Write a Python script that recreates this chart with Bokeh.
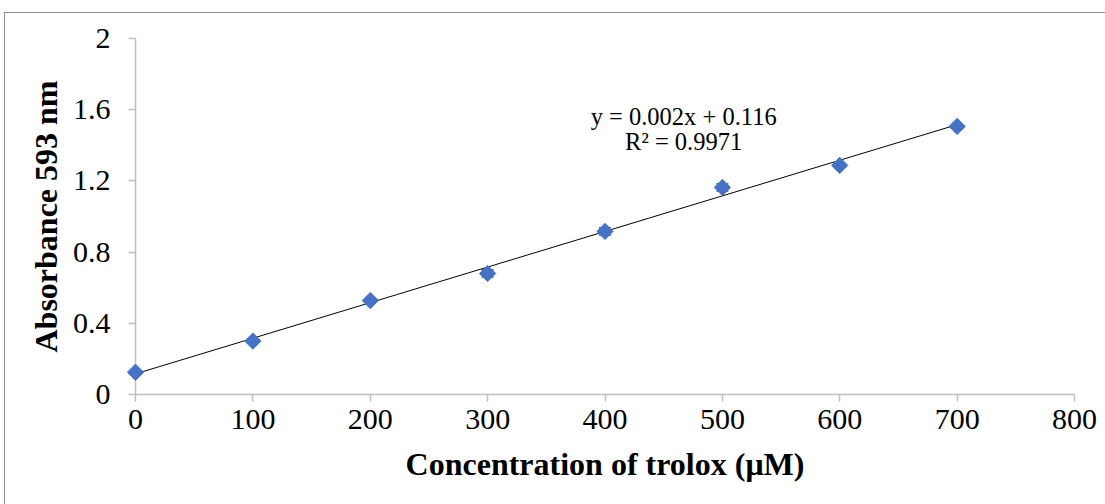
from bokeh.plotting import figure
from bokeh.models import ColumnDataSource, FixedTicker, Whisker, Label
from bokeh.embed import file_html
from bokeh.resources import INLINE
import math

# Data
concentration = [0, 100, 200, 300, 400, 500, 600, 700]
absorbance = [0.125, 0.300, 0.528, 0.680, 0.916, 1.163, 1.287, 1.506]
error = [0.01, 0.01, 0.01, 0.02, 0.02, 0.02, 0.01, 0.01]
trend_slope = 0.002
trend_intercept = 0.116
x_ticks = [0, 100, 200, 300, 400, 500, 600, 700, 800]
y_ticks = [0, 0.4, 0.8, 1.2, 1.6, 2]
y_tick_labels = ["0", "0.4", "0.8", "1.2", "1.6", "2"]
equation_text = "y = 0.002x + 0.116"
r2_text = "R² = 0.9971"

SERIF = "Liberation Serif"
AXIS_GRAY = "#bfbfbf"

p = figure(width=1101, height=492, x_range=(0, 800), y_range=(0, 2),
           output_backend="svg", toolbar_location=None,
           min_border_left=130, min_border_right=32,
           min_border_top=25, min_border_bottom=111)
p.margin = (12, 0, 0, 4)
p.styles = {"border-top": "1px solid #8f8f8f", "border-left": "1px solid #8f8f8f"}
p.outline_line_color = None
p.xgrid.grid_line_color = None
p.ygrid.grid_line_color = None

src = ColumnDataSource(dict(
    x=concentration, y=absorbance,
    lo=[a - e for a, e in zip(absorbance, error)],
    hi=[a + e for a, e in zip(absorbance, error)],
))

# Trendline
tx = [concentration[0], concentration[-1]]
ty = [trend_intercept + trend_slope * v for v in tx]
p.line(tx, ty, line_color="black", line_width=1)

# Error bars
w = Whisker(source=src, base="x", lower="lo", upper="hi", dimension="height",
            line_color="black", line_width=1)
w.upper_head.size = 12
w.lower_head.size = 12
w.upper_head.line_color = "black"
w.lower_head.line_color = "black"
p.add_layout(w)

# Markers (overlay level so the marker at x=0 is not clipped)
p.scatter("x", "y", source=src, marker="square", angle=math.pi / 4, size=11.5,
          fill_color="#4472C4", line_color="#4472C4", level="overlay")

# Equation labels
p.add_layout(Label(x=467, y=1.56, text=equation_text, text_align="center",
                   text_baseline="middle", text_font=SERIF, text_font_size="24.5px",
                   text_color="black"))
p.add_layout(Label(x=467, y=1.42, text=r2_text, text_align="center",
                   text_baseline="middle", text_font=SERIF, text_font_size="24.5px",
                   text_color="black"))

# Axes
for ax in (p.xaxis[0], p.yaxis[0]):
    ax.axis_line_color = AXIS_GRAY
    ax.axis_line_width = 1.5
    ax.major_tick_line_color = AXIS_GRAY
    ax.major_tick_line_width = 1.5
    ax.major_tick_out = 7
    ax.major_tick_in = 0
    ax.minor_tick_line_color = None
    ax.major_label_text_font = SERIF
    ax.major_label_text_font_size = "30px"
    ax.major_label_text_color = "black"
    ax.axis_label_text_font = SERIF
    ax.axis_label_text_font_style = "bold"
    ax.axis_label_text_font_size = "32px"
    ax.axis_label_text_color = "black"

p.xaxis.ticker = FixedTicker(ticks=x_ticks)
p.yaxis.ticker = FixedTicker(ticks=y_ticks)
p.yaxis.major_label_overrides = {t: s for t, s in zip(y_ticks, y_tick_labels)}
p.xaxis.axis_label = "Concentration of trolox (μM)"
p.yaxis.axis_label = "Absorbance 593 nm"
p.xaxis.major_label_standoff = 8
p.yaxis.major_label_standoff = 18
p.xaxis.axis_label_standoff = 14
p.yaxis.axis_label_standoff = 6

open("out.html", "w").write(file_html(p, INLINE))
